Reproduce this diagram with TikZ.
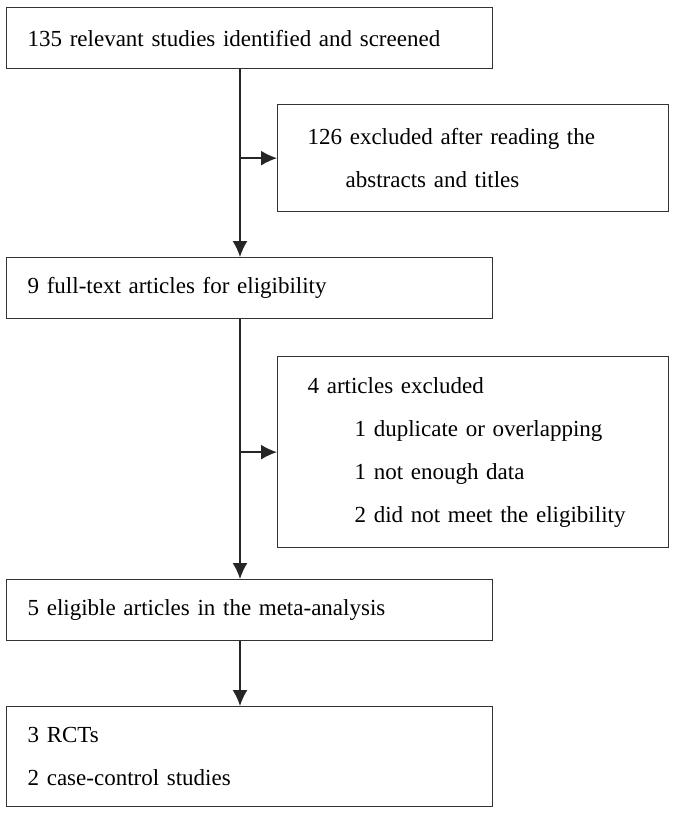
\documentclass[tikz,border=0pt]{standalone}
\usepackage{fontspec}
\setmainfont{Liberation Serif}
\usetikzlibrary{arrows.meta}
\begin{document}
\begin{tikzpicture}[x=1pt, y=-1pt,
		mainbox/.style={rectangle, draw=black!80, line width=1.3pt, anchor=north west, 
		minimum width=486pt, inner xsep=21pt, text width=444pt, align=left, 
		font=\fontsize{23}{43}\selectfont},
		sidebox/.style={mainbox, minimum width=391pt, inner xsep=30pt, text width=331pt},
		link/.style={line width=1.5pt, draw=black!85, -{Latex[length=16pt, width=15pt]}}]
		\useasboundingbox (0,0) rectangle (676,813);
		
		%main column nodes
		\node (Screened) at (6,7) [mainbox, minimum height=61pt]{135 relevant studies identified and screened};
		\node (Full Text) at (6,257) [mainbox, minimum height=61pt]{9 full-text articles for eligibility};
		\node (Eligible) at (6,579) [mainbox, minimum height=61pt]{5 eligible articles in the meta-analysis};
		\node (Study Types) at (6,706) [mainbox, minimum height=100pt]{3 RCTs \\ 2 case-control studies};
		
		%excluded nodes
		\node (Abstracts) at (277,104) [sidebox, minimum height=107pt]{126 excluded after reading the \\ 
		\hspace*{38pt}abstracts and titles};
		\node (Excluded) at (277,356) [sidebox, minimum height=191pt]{4 articles excluded \\ 
		\hspace*{47pt}1 duplicate or overlapping \\ 
		\hspace*{47pt}1 not enough data \\ 
		\hspace*{47pt}2 did not meet the eligibility};
		
		\coordinate (Trunk) at (240,0);
		
		%links
		\draw[link] (Screened.south -| Trunk) -- (Full Text.north -| Trunk);
		\draw[link] (Abstracts.west -| Trunk) -- (Abstracts.west);
		\draw[link] (Full Text.south -| Trunk) -- (Eligible.north -| Trunk);
		\draw[link] (Excluded.west -| Trunk) -- (Excluded.west);
		\draw[link] (Eligible.south -| Trunk) -- (Study Types.north -| Trunk);
		
	\end{tikzpicture}
\end{document}
